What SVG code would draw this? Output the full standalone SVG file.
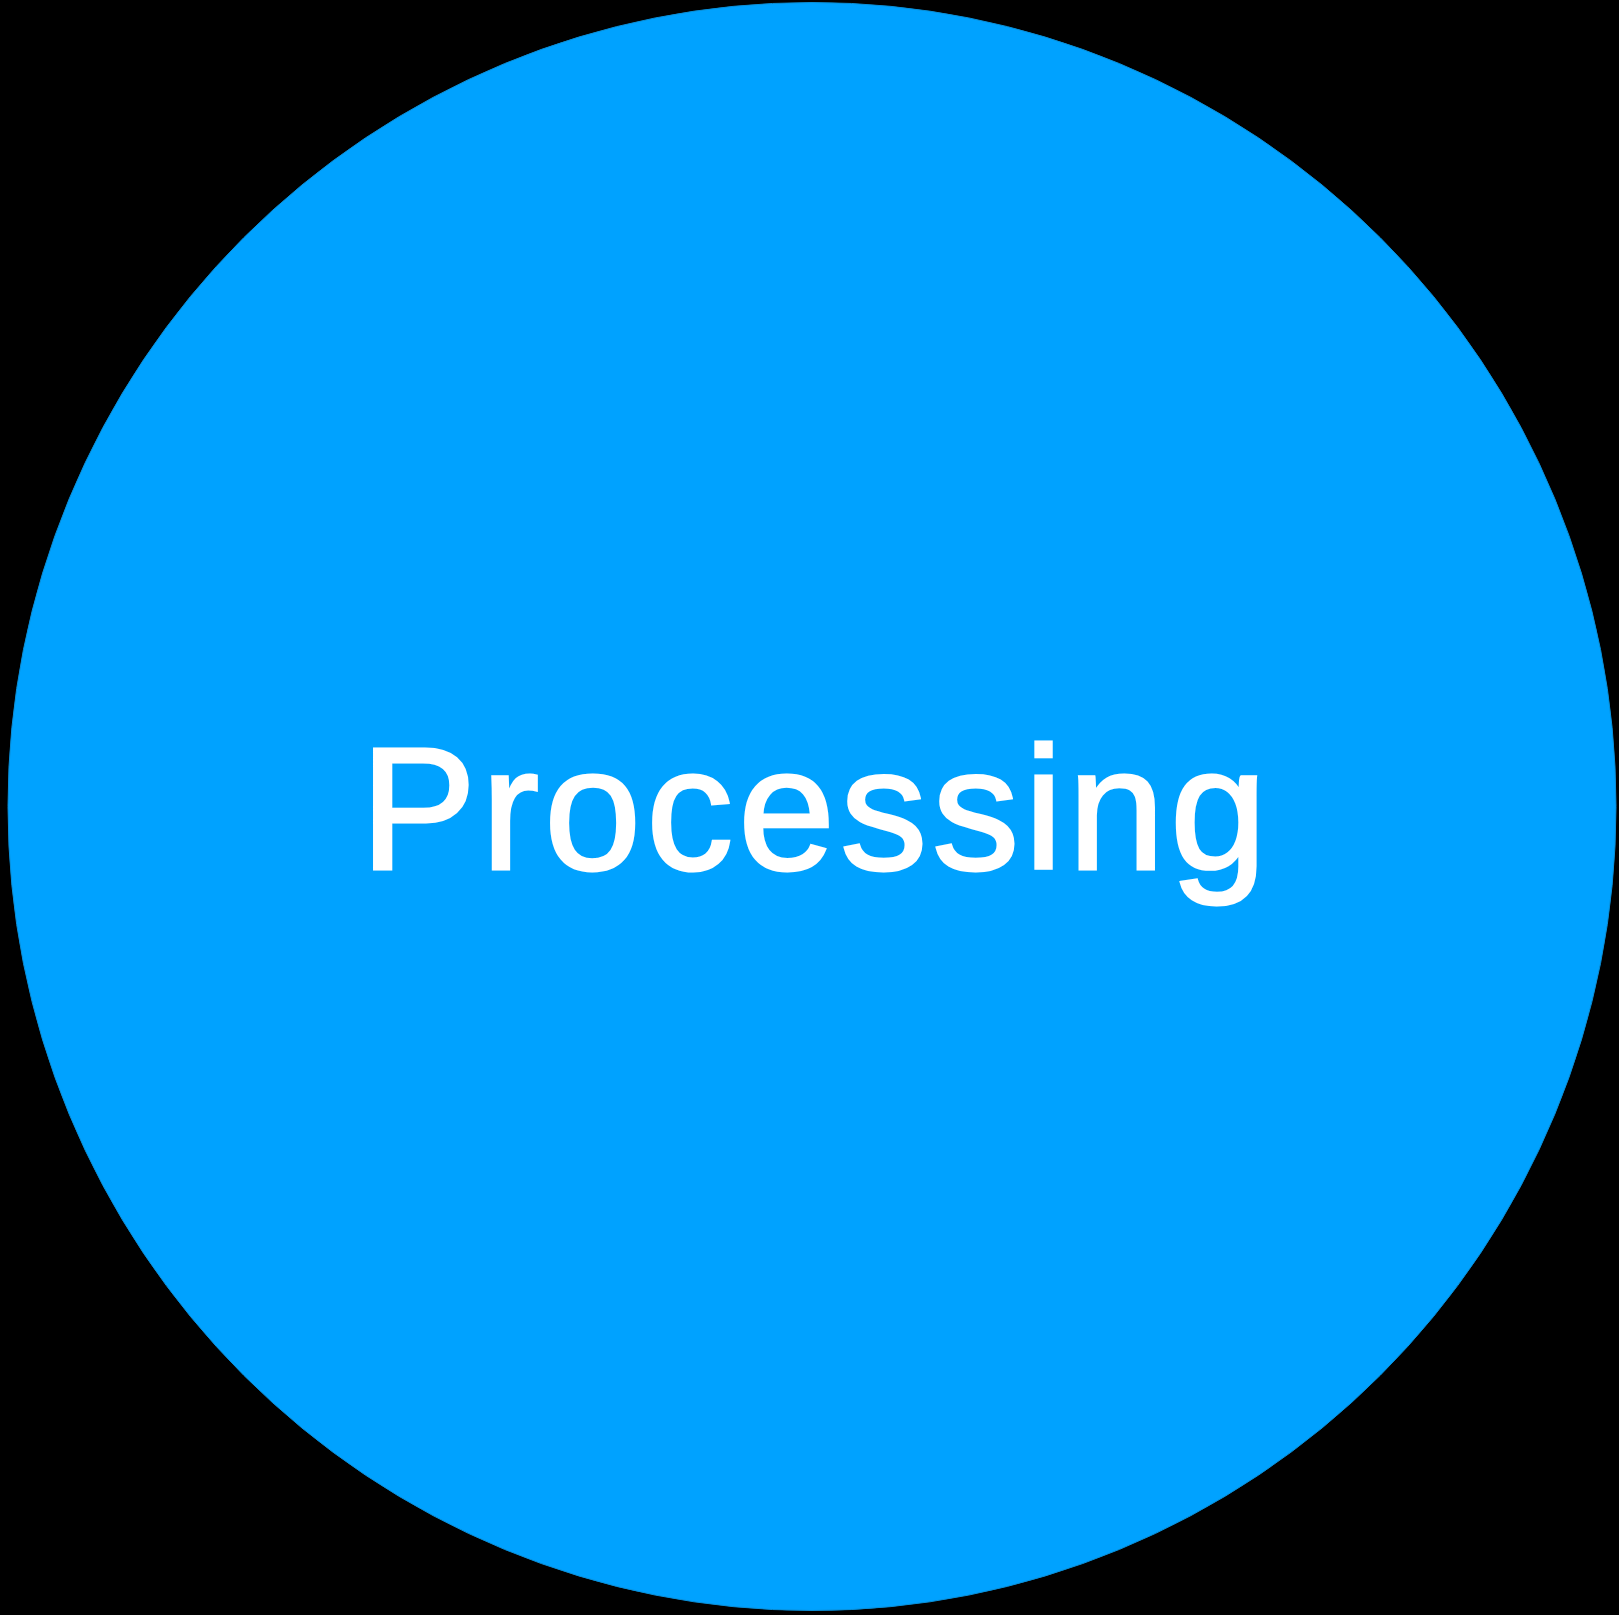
<svg xmlns="http://www.w3.org/2000/svg" width="1619" height="1615" viewBox="0 0 1619 1615">
<style>
.bg{fill:#000000}
.node{fill:#00A2FF;stroke:#0a8fd8;stroke-width:1}
.label{fill:#FFFFFF;stroke:#FFFFFF;stroke-width:3;stroke-linejoin:miter;font-family:"Liberation Sans",Arial,sans-serif;font-size:174px;letter-spacing:5.1px;text-anchor:middle}
</style>
<rect class="bg" x="0" y="0" width="1619" height="1615"/>
<g id="connectors"></g>
<g id="node-processing">
<ellipse class="node" cx="812" cy="806.5" rx="804" ry="804"/>
<text class="label" x="816" y="869">Processing</text>
</g>
</svg>
